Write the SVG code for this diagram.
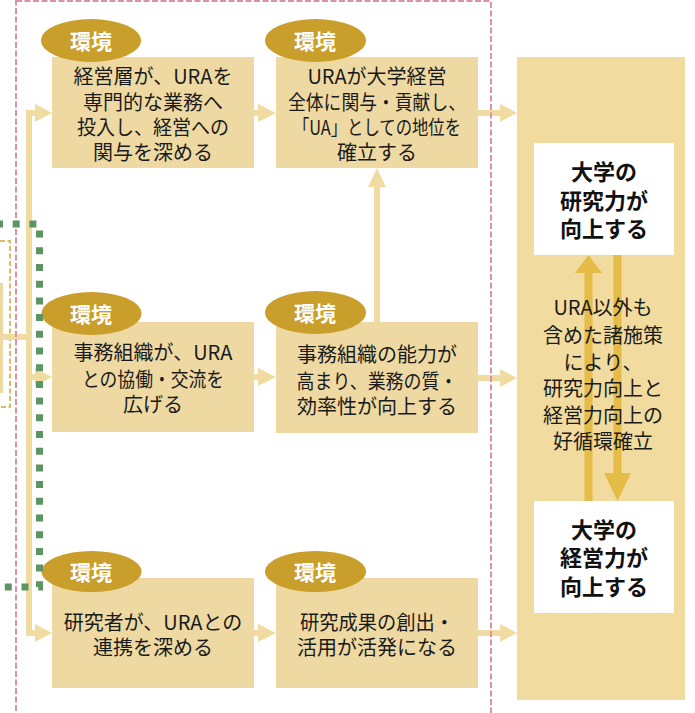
<svg xmlns="http://www.w3.org/2000/svg" width="695" height="713" viewBox="0 0 695 713">
<style>
.box{fill:#eed9a3}
.big{fill:#f1db9e}
.wbox{fill:#ffffff}
.t{font-family:"Noto Sans CJK JP","Noto Sans",sans-serif;font-size:20px;fill:#1a1a1a;text-anchor:middle}
.b{font-family:"Noto Sans CJK JP","Noto Sans",sans-serif;font-size:22px;font-weight:700;fill:#111111;text-anchor:middle}
.env{fill:#c99e2a}
.envt{font-family:"Noto Sans CJK JP","Noto Sans",sans-serif;font-size:21px;font-weight:700;fill:#ffffff;text-anchor:middle}
.con{stroke:#f0dba1;stroke-width:6;fill:none}
.head{fill:#f0dba1}
.cyc{stroke:#e5bc47;stroke-width:8;fill:none}
.cychead{fill:#e5bc47}
</style>

<g id="left-partial">
  <rect class="box" x="-10" y="283" width="13" height="110"/>
  <path d="M0,241 H10 V407 H0" fill="none" stroke="#d4a52f" stroke-width="1.5" stroke-dasharray="5 2.5"/>
</g>

<g id="outcome">
  <rect class="big" x="517" y="57" width="168" height="643"/>
  <g id="research">
    <rect class="wbox" x="534" y="143" width="140" height="112"/>
    <text class="b" x="604" y="180">大学の</text>
    <text class="b" x="604" y="209">研究力が</text>
    <text class="b" x="604" y="237">向上する</text>
  </g>
  <g id="management">
    <rect class="wbox" x="534" y="501" width="140" height="112"/>
    <text class="b" x="604" y="538">大学の</text>
    <text class="b" x="604" y="566">経営力が</text>
    <text class="b" x="604" y="595">向上する</text>
  </g>
  <g id="cycle-arrows">
    <path class="cyc" d="M588.5,501 V271"/>
    <polygon class="cychead" points="575,273 588.5,255 602,273"/>
    <path class="cyc" d="M617.5,255 V475"/>
    <polygon class="cychead" points="604,473 617.5,501 631,473"/>
  </g>
  <g id="cycle-text">
    <text class="t" x="603" y="315">URA以外も</text>
    <text class="t" x="603" y="343">含めた諸施策</text>
    <text class="t" x="603" y="370">により、</text>
    <text class="t" x="603" y="396">研究力向上と</text>
    <text class="t" x="603" y="423">経営力向上の</text>
    <text class="t" x="603" y="449">好循環確立</text>
  </g>
</g>

<g id="n1">
  <rect class="box" x="52" y="57" width="202" height="111"/>
  <text class="t" x="153" y="84">経営層が、URAを</text>
  <text class="t" x="153" y="110">専門的な業務へ</text>
  <text class="t" x="153" y="135" textLength="152" lengthAdjust="spacingAndGlyphs">投入し、経営への</text>
  <text class="t" x="153" y="160">関与を深める</text>
  <ellipse class="env" cx="91" cy="40.5" rx="50" ry="21.5"/>
  <text class="envt" x="91" y="49">環境</text>
</g>

<g id="n2">
  <rect class="box" x="276" y="57" width="202" height="111"/>
  <text class="t" x="377" y="84">URAが大学経営</text>
  <text class="t" x="377" y="110" textLength="178" lengthAdjust="spacingAndGlyphs">全体に関与・貢献し、</text>
  <text class="t" x="377" y="135" textLength="168" lengthAdjust="spacingAndGlyphs">「UA」としての地位を</text>
  <text class="t" x="377" y="160">確立する</text>
  <ellipse class="env" cx="315.5" cy="40.5" rx="50.5" ry="21.5"/>
  <text class="envt" x="315" y="49">環境</text>
</g>

<g id="n3">
  <rect class="box" x="52" y="322" width="202" height="110"/>
  <text class="t" x="153" y="360">事務組織が、URA</text>
  <text class="t" x="153" y="387" textLength="142" lengthAdjust="spacingAndGlyphs">との協働・交流を</text>
  <text class="t" x="153" y="412">広げる</text>
  <ellipse class="env" cx="91.5" cy="313.5" rx="50" ry="21.5"/>
  <text class="envt" x="91" y="322">環境</text>
</g>

<g id="n4">
  <rect class="box" x="276" y="322" width="202" height="111"/>
  <text class="t" x="377" y="362">事務組織の能力が</text>
  <text class="t" x="377" y="389" textLength="161" lengthAdjust="spacingAndGlyphs">高まり、業務の質・</text>
  <text class="t" x="377" y="414">効率性が向上する</text>
  <ellipse class="env" cx="315.5" cy="312.5" rx="50.5" ry="21.5"/>
  <text class="envt" x="315" y="321">環境</text>
</g>

<g id="n5">
  <rect class="box" x="52" y="578" width="202" height="110"/>
  <text class="t" x="153" y="630">研究者が、URAとの</text>
  <text class="t" x="153" y="655">連携を深める</text>
  <ellipse class="env" cx="91.5" cy="571.5" rx="50" ry="20.5"/>
  <text class="envt" x="91" y="580">環境</text>
</g>

<g id="n6">
  <rect class="box" x="276" y="578" width="202" height="110"/>
  <text class="t" x="377" y="630" textLength="154" lengthAdjust="spacingAndGlyphs">研究成果の創出・</text>
  <text class="t" x="377" y="655">活用が活発になる</text>
  <ellipse class="env" cx="315.5" cy="571.5" rx="50.5" ry="20.5"/>
  <text class="envt" x="315" y="580">環境</text>
</g>

<g id="connectors">
  <path class="con" d="M36,113 H29 V633 H36"/>
  <path class="con" d="M3,337 H29"/>
  <path class="con" d="M29,377 H36"/>
  <polygon class="head" points="35,104 52,113 35,122"/>
  <polygon class="head" points="35,368 52,377 35,386"/>
  <polygon class="head" points="35,624 52,633 35,642"/>
  <path class="con" d="M254,113 H259"/>
  <polygon class="head" points="258,104 276,113 258,122"/>
  <path class="con" d="M254,377 H259"/>
  <polygon class="head" points="258,368 276,377 258,386"/>
  <path class="con" d="M254,633 H259"/>
  <polygon class="head" points="258,624 276,633 258,642"/>
  <path class="con" d="M478,113 H501"/>
  <polygon class="head" points="500,104 517,113 500,122"/>
  <path class="con" d="M478,378 H501"/>
  <polygon class="head" points="500,369 517,378 500,387"/>
  <path class="con" d="M478,633 H501"/>
  <polygon class="head" points="500,624 517,633 500,642"/>
  <path class="con" d="M377,322 V185"/>
  <polygon class="head" points="368,187 377,168 386,187"/>
</g>

<g id="scope-frame">
  <rect x="16" y="1" width="475" height="730" fill="none" stroke="#d992a6" stroke-width="2" stroke-dasharray="6 2.5"/>
</g>

<g id="green-frame">
  <path d="M0,224 H39.5 V587 H0" fill="none" stroke="#5d9463" stroke-width="7" stroke-dasharray="7 9.7" stroke-dashoffset="4"/>
</g>
</svg>
